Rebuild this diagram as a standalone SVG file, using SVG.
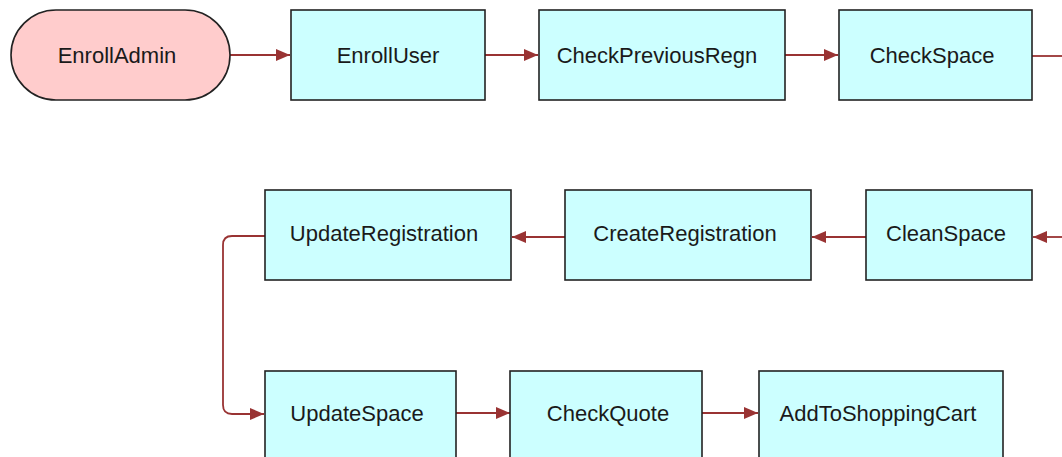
<svg xmlns="http://www.w3.org/2000/svg" width="1062" height="457" viewBox="0 0 1062 457">
<style>
.box{fill:#ccffff;stroke:#222;stroke-width:1.6}
.start{fill:#ffcccc;stroke:#222;stroke-width:1.6}
.lbl{font-family:"Liberation Sans",Arial,sans-serif;font-size:22px;fill:#1a1a1a;text-anchor:middle}
.edge{fill:none;stroke:#993333;stroke-width:1.8}
</style>
<defs>
<marker id="ah" viewBox="0 0 14 12" refX="14" refY="6" markerWidth="14" markerHeight="12" markerUnits="userSpaceOnUse" orient="auto">
<path d="M0,0 L14,6 L0,12 Z" fill="#993333"/>
</marker>
</defs>
<rect width="1062" height="457" fill="#ffffff"/>
<g id="connectors">
<path class="edge" d="M230,55 H290" marker-end="url(#ah)"/>
<path class="edge" d="M485,55 H538" marker-end="url(#ah)"/>
<path class="edge" d="M785,55 H838" marker-end="url(#ah)"/>
<path class="edge" d="M1032,56 H1062"/>
<path class="edge" d="M1062,237 H1033" marker-end="url(#ah)"/>
<path class="edge" d="M866,237 H812" marker-end="url(#ah)"/>
<path class="edge" d="M565,237 H512" marker-end="url(#ah)"/>
<path class="edge" d="M265,236 H232 Q223,236 223,245 V405 Q223,414 232,414 H264" marker-end="url(#ah)"/>
<path class="edge" d="M456,413 H510" marker-end="url(#ah)"/>
<path class="edge" d="M702,413 H758" marker-end="url(#ah)"/>
</g>
<g id="EnrollAdmin">
<rect class="start" x="11" y="10" width="219" height="90" rx="45" ry="45"/>
<text class="lbl" x="117" y="63">EnrollAdmin</text>
</g>
<g id="EnrollUser">
<rect class="box" x="291" y="10" width="194" height="90"/>
<text class="lbl" x="388" y="63">EnrollUser</text>
</g>
<g id="CheckPreviousRegn">
<rect class="box" x="539" y="10" width="246" height="90"/>
<text class="lbl" x="657" y="63">CheckPreviousRegn</text>
</g>
<g id="CheckSpace">
<rect class="box" x="839" y="10" width="193" height="90"/>
<text class="lbl" x="932" y="63">CheckSpace</text>
</g>
<g id="CleanSpace">
<rect class="box" x="866" y="190" width="166" height="90"/>
<text class="lbl" x="946" y="241">CleanSpace</text>
</g>
<g id="CreateRegistration">
<rect class="box" x="565" y="190" width="246" height="90"/>
<text class="lbl" x="685" y="241">CreateRegistration</text>
</g>
<g id="UpdateRegistration">
<rect class="box" x="265" y="190" width="246" height="90"/>
<text class="lbl" x="384" y="241">UpdateRegistration</text>
</g>
<g id="UpdateSpace">
<rect class="box" x="265" y="371" width="191" height="92"/>
<text class="lbl" x="357" y="421">UpdateSpace</text>
</g>
<g id="CheckQuote">
<rect class="box" x="510" y="371" width="192" height="92"/>
<text class="lbl" x="608" y="421">CheckQuote</text>
</g>
<g id="AddToShoppingCart">
<rect class="box" x="759" y="371" width="244" height="92"/>
<text class="lbl" x="878" y="421">AddToShoppingCart</text>
</g>
</svg>
